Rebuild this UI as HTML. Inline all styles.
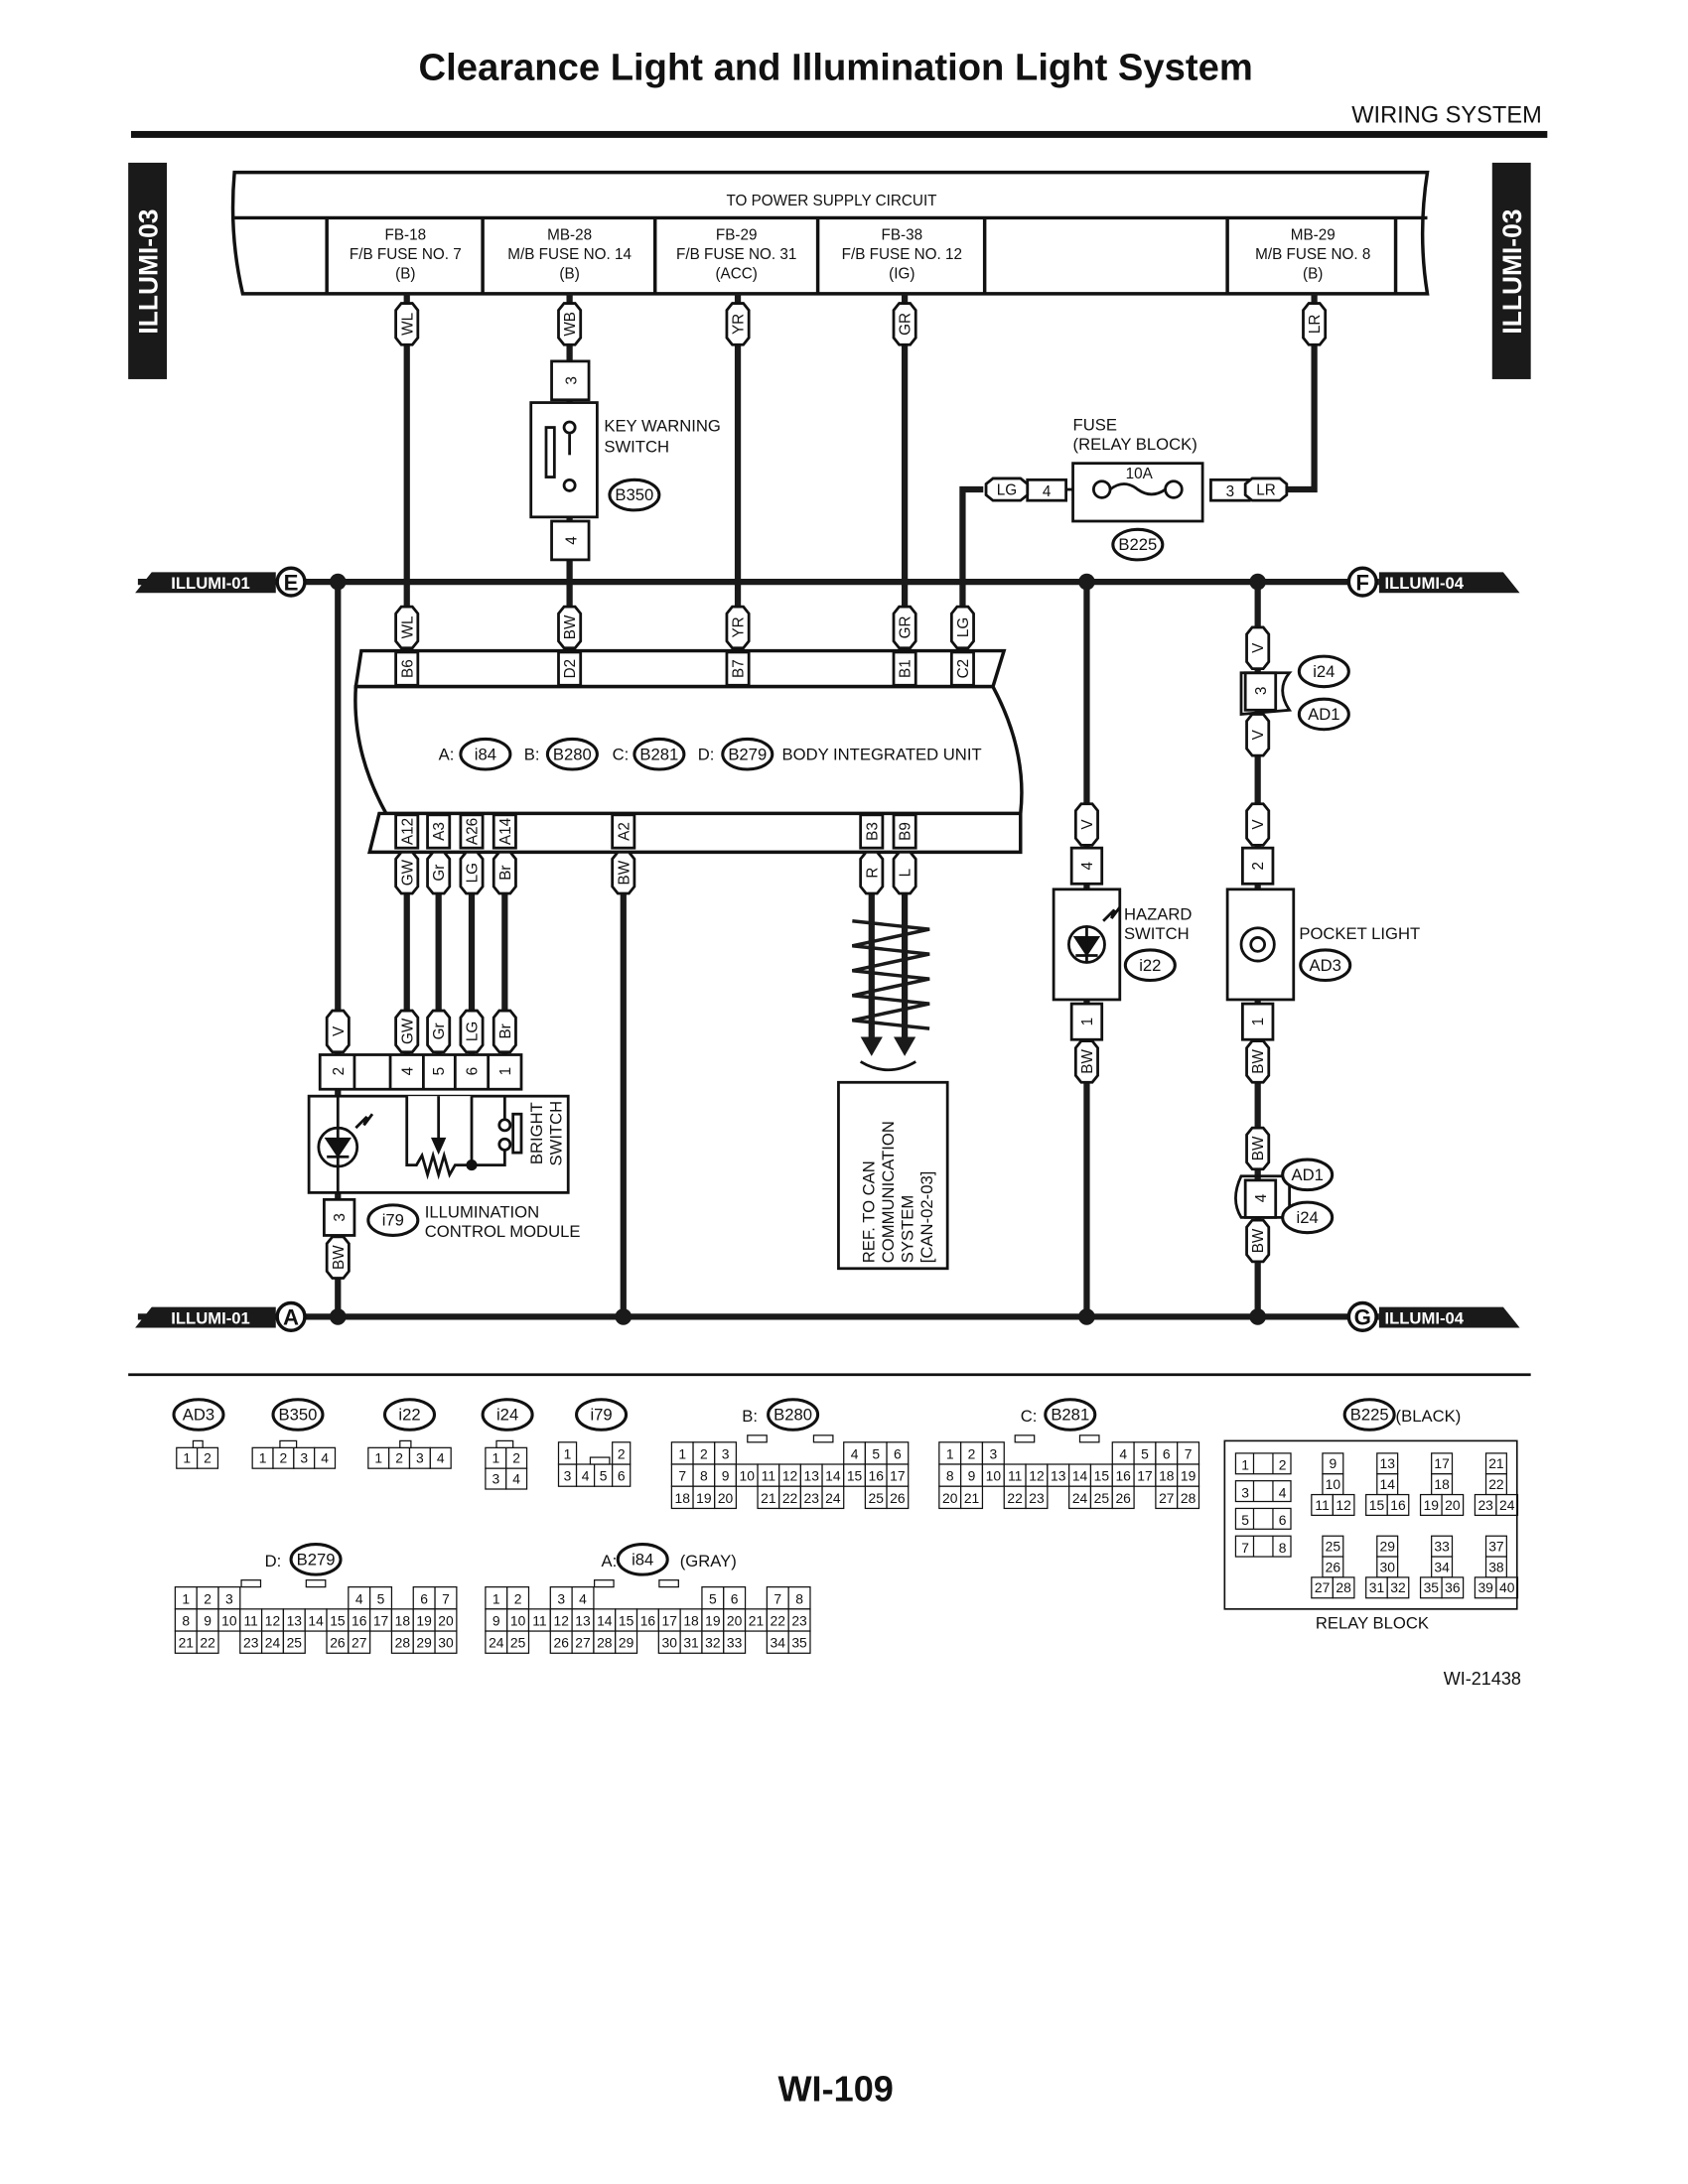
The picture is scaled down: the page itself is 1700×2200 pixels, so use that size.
<!DOCTYPE html>
<html><head><meta charset="utf-8">
<style>
html,body{margin:0;padding:0;background:#fff;overflow:hidden;}
svg{display:block;}
text{font-family:"Liberation Sans",Arial,sans-serif;fill:#111;}
</style></head>
<body>
<svg id="s" width="1700" height="2200" viewBox="0 0 1224 1584" xmlns="http://www.w3.org/2000/svg">
<rect width="1224" height="1584" fill="#fff"/>
<text x="606" y="58" font-size="27.5" font-weight="bold" text-anchor="middle">Clearance Light and Illumination Light System</text>
<text x="1118" y="89" font-size="17" text-anchor="end">WIRING SYSTEM</text>
<rect x="95" y="95" width="1027" height="5" fill="#111"/>

<rect x="93" y="118" width="28" height="157" fill="#1a1a1a"/>
<text transform="translate(114,197) rotate(-90)" font-size="19" font-weight="bold" text-anchor="middle" style="fill:#fff">ILLUMI-03</text>
<rect x="1082" y="118" width="28" height="157" fill="#1a1a1a"/>
<text transform="translate(1103,197) rotate(-90)" font-size="19" font-weight="bold" text-anchor="middle" style="fill:#fff">ILLUMI-03</text>

<g fill="none" stroke="#111" stroke-width="2.5">
<path d="M170,125 L1035,125 Q1028,170 1035,213 L176,213 Q166,170 170,125 Z" fill="#fff"/>
<line x1="170" y1="158" x2="1035" y2="158"/>
<line x1="237" y1="158" x2="237" y2="213"/>
<line x1="350" y1="158" x2="350" y2="213"/>
<line x1="475" y1="158" x2="475" y2="213"/>
<line x1="593" y1="158" x2="593" y2="213"/>
<line x1="714" y1="158" x2="714" y2="213"/>
<line x1="890" y1="158" x2="890" y2="213"/>
<line x1="1012" y1="158" x2="1012" y2="213"/>
</g>
<g font-size="11" text-anchor="middle">
<text x="603" y="149">TO POWER SUPPLY CIRCUIT</text>
<text x="294" y="174">FB-18</text><text x="294" y="188">F/B FUSE NO. 7</text><text x="294" y="202">(B)</text>
<text x="413" y="174">MB-28</text><text x="413" y="188">M/B FUSE NO. 14</text><text x="413" y="202">(B)</text>
<text x="534" y="174">FB-29</text><text x="534" y="188">F/B FUSE NO. 31</text><text x="534" y="202">(ACC)</text>
<text x="654" y="174">FB-38</text><text x="654" y="188">F/B FUSE NO. 12</text><text x="654" y="202">(IG)</text>
<text x="952" y="174">MB-29</text><text x="952" y="188">M/B FUSE NO. 8</text><text x="952" y="202">(B)</text>
</g>

<g stroke="#1a1a1a" stroke-width="4.5" fill="none">
<line x1="295" y1="213" x2="295" y2="475"/>
<line x1="413" y1="213" x2="413" y2="475"/>
<line x1="535" y1="213" x2="535" y2="475"/>
<line x1="656" y1="213" x2="656" y2="475"/>
<polyline points="953,213 953,355 930,355"/>
<polyline points="713,355 698,355 698,475"/>
<line x1="100" y1="422" x2="1000" y2="422"/>
<line x1="100" y1="955" x2="1000" y2="955"/>
<line x1="245" y1="422" x2="245" y2="955"/>
<line x1="295" y1="618" x2="295" y2="765"/>
<line x1="318" y1="618" x2="318" y2="765"/>
<line x1="342" y1="618" x2="342" y2="765"/>
<line x1="366" y1="618" x2="366" y2="765"/>
<line x1="452" y1="618" x2="452" y2="955"/>
<line x1="632" y1="618" x2="632" y2="755"/>
<line x1="656" y1="618" x2="656" y2="755"/>
<line x1="788" y1="422" x2="788" y2="955"/>
<line x1="912" y1="422" x2="912" y2="955"/>
</g>
<g fill="#1a1a1a">
<circle cx="245" cy="422" r="6"/><circle cx="788" cy="422" r="6"/><circle cx="912" cy="422" r="6"/>
<circle cx="245" cy="955" r="6"/><circle cx="452" cy="955" r="6"/><circle cx="788" cy="955" r="6"/><circle cx="912" cy="955" r="6"/>
<path d="M110,415 L200,415 L200,430 L98,430 Z"/>
<path d="M1000,415 L1090,415 L1102,430 L1000,430 Z"/>
<path d="M110,948 L200,948 L200,963 L98,963 Z"/>
<path d="M1000,948 L1090,948 L1102,963 L1000,963 Z"/>
</g>
<g font-size="12" font-weight="bold">
<text x="124" y="427" style="fill:#fff">ILLUMI-01</text>
<text x="1004" y="427" style="fill:#fff">ILLUMI-04</text>
<text x="124" y="960" style="fill:#fff">ILLUMI-01</text>
<text x="1004" y="960" style="fill:#fff">ILLUMI-04</text>
</g>
<g fill="#fff" stroke="#111" stroke-width="2.5">
<circle cx="211" cy="422" r="10"/><circle cx="988" cy="422" r="10"/>
<circle cx="211" cy="955" r="10"/><circle cx="988" cy="955" r="10"/>
</g>
<g font-size="16" font-weight="bold" text-anchor="middle">
<text x="211" y="428">E</text><text x="988" y="428">F</text><text x="211" y="961">A</text><text x="988" y="961">G</text>
</g>

<g fill="#fff" stroke="#111" stroke-width="2">
<rect x="400" y="262" width="27" height="28"/>
<rect x="385" y="292" width="48" height="83"/>
<rect x="400" y="378" width="27" height="28"/>
<rect x="396" y="310" width="6" height="36"/>
<circle cx="413" cy="310" r="4"/><circle cx="413" cy="352" r="4"/>
</g>
<line x1="413" y1="315" x2="413" y2="330" stroke="#111" stroke-width="2"/>
<text transform="translate(418,276) rotate(-90)" font-size="11" text-anchor="middle">3</text>
<text transform="translate(418,392) rotate(-90)" font-size="11" text-anchor="middle">4</text>
<text x="438" y="313" font-size="12">KEY WARNING</text>
<text x="438" y="328" font-size="12">SWITCH</text>

<g fill="#fff" stroke="#111" stroke-width="2">
<rect x="778" y="336" width="94" height="42"/>
<rect x="745" y="348" width="28" height="15"/>
<rect x="878" y="348" width="28" height="15"/>
<circle cx="799" cy="355" r="6"/><circle cx="851" cy="355" r="6"/>
<path d="M805,355 Q815,347 825,355 Q835,362 845,355" fill="none"/>
<line x1="773" y1="355" x2="778" y2="355"/>
</g>
<text x="759" y="360" font-size="11" text-anchor="middle">4</text>
<text x="892" y="360" font-size="11" text-anchor="middle">3</text>
<text x="826" y="347" font-size="11" text-anchor="middle">10A</text>
<text x="778" y="312" font-size="12">FUSE</text>
<text x="778" y="326" font-size="12">(RELAY BLOCK)</text>

<g fill="#fff" stroke="#111" stroke-width="2.5">
<path d="M262,472 L728,472 L720,498 L258,498 Z"/>
<path d="M258,498 L720,498 Q745,545 740,590 L280,590 Q255,545 258,498 Z"/>
<path d="M275,590 L740,590 L740,618 L268,618 Z"/>
</g>
<g font-size="12">
<text x="318" y="551">A:</text><text x="380" y="551">B:</text><text x="444" y="551">C:</text><text x="506" y="551">D:</text>
<text x="567" y="551">BODY INTEGRATED UNIT</text>
</g>

<g fill="#fff" stroke="#111" stroke-width="2">
<rect x="232" y="765" width="146" height="25"/>
<rect x="224" y="795" width="188" height="70"/>
<rect x="235" y="870" width="22" height="26"/>
<circle cx="245" cy="832" r="14"/>
<line x1="245" y1="795" x2="245" y2="865"/>
<path d="M237,826 L253,826 L245,838 Z" fill="#111"/>
<line x1="237" y1="839" x2="253" y2="839"/>
<path d="M258,818 L266,810 L264,816 L270,808"/>
<polyline points="295,795 295,845 302,845 306,838 310,852 314,838 318,852 322,838 326,852 330,845 342,845 342,795"/>
<line x1="318" y1="795" x2="318" y2="832"/>
<path d="M314,826 L322,826 L318,835 Z" fill="#111"/>
<polyline points="342,845 366,845 366,832"/>
<polyline points="366,795 366,812"/>
<circle cx="366" cy="816" r="4"/><circle cx="366" cy="830" r="4"/>
<rect x="372" y="808" width="6" height="28"/>
</g>
<circle cx="342" cy="845" r="4" fill="#111"/>
<g stroke="#111" stroke-width="2"><line x1="257" y1="765" x2="257" y2="790"/><line x1="283" y1="765" x2="283" y2="790"/><line x1="307" y1="765" x2="307" y2="790"/><line x1="330" y1="765" x2="330" y2="790"/><line x1="354" y1="765" x2="354" y2="790"/></g>
<g font-size="11" text-anchor="middle">
<text transform="translate(249,777) rotate(-90)">2</text>
<text transform="translate(299,777) rotate(-90)">4</text>
<text transform="translate(322,777) rotate(-90)">5</text>
<text transform="translate(346,777) rotate(-90)">6</text>
<text transform="translate(370,777) rotate(-90)">1</text>
<text transform="translate(250,883) rotate(-90)">3</text>
<text transform="translate(393,822) rotate(-90)" font-size="12">BRIGHT</text>
<text transform="translate(407,822) rotate(-90)" font-size="12">SWITCH</text>
</g>
<text x="308" y="883" font-size="12">ILLUMINATION</text>
<text x="308" y="897" font-size="12">CONTROL MODULE</text>

<g stroke="#1a1a1a" stroke-width="2.5" fill="none">
<polyline points="618,668 674,674 618,686 674,692 618,704 674,710 618,722 674,728 618,740 674,746"/>
</g>
<path d="M624,752 L640,752 L632,766 Z M648,752 L664,752 L656,766 Z" fill="#1a1a1a"/>
<path d="M624,770 Q644,782 664,770" fill="none" stroke="#111" stroke-width="2"/>
<rect x="608" y="785" width="79" height="135" fill="#fff" stroke="#111" stroke-width="2"/>
<g font-size="12">
<text transform="translate(634,916) rotate(-90)">REF. TO CAN</text>
<text transform="translate(648,916) rotate(-90)">COMMUNICATION</text>
<text transform="translate(662,916) rotate(-90)">SYSTEM</text>
<text transform="translate(676,916) rotate(-90)">[CAN-02-03]</text>
</g>

<g fill="#fff" stroke="#111" stroke-width="2">
<rect x="777" y="615" width="22" height="26"/>
<rect x="764" y="645" width="48" height="80"/>
<rect x="777" y="728" width="22" height="26"/>
<circle cx="788" cy="685" r="13"/>
<path d="M780,680 L796,680 L788,692 Z" fill="#111"/>
<line x1="780" y1="693" x2="796" y2="693"/>
<line x1="788" y1="672" x2="788" y2="698"/>
<path d="M800,668 L808,660 L806,666 L812,658"/>
<rect x="903" y="488" width="22" height="27"/>
<path d="M900,488 L935,488 Q925,500 935,515 L900,518 Z" fill="none"/>
<rect x="901" y="615" width="22" height="26"/>
<rect x="890" y="645" width="48" height="80"/>
<rect x="901" y="728" width="22" height="26"/>
<circle cx="912" cy="685" r="12"/>
<circle cx="912" cy="685" r="5"/>
<rect x="903" y="856" width="22" height="27"/>
<path d="M900,853 L935,853 L935,883 L900,883 Q892,870 900,853 Z" fill="none"/>
</g>
<g font-size="11" text-anchor="middle">
<text transform="translate(792,628) rotate(-90)">4</text>
<text transform="translate(792,741) rotate(-90)">1</text>
<text transform="translate(918,501) rotate(-90)">3</text>
<text transform="translate(916,628) rotate(-90)">2</text>
<text transform="translate(916,741) rotate(-90)">1</text>
<text transform="translate(918,869) rotate(-90)">4</text>
</g>
<g font-size="12">
<text x="815" y="667">HAZARD</text><text x="815" y="681">SWITCH</text>
<text x="942" y="681">POCKET LIGHT</text>
</g>

<g id="labels"></g>
<g id="grids"></g>

<line x1="93" y1="997" x2="1110" y2="997" stroke="#111" stroke-width="2"/>
<text x="1103" y="1222" font-size="13" text-anchor="end">WI-21438</text>
<text x="606" y="1524" font-size="26" font-weight="bold" text-anchor="middle">WI-109</text>
<rect x="888" y="1045" width="212" height="122" fill="none" stroke="#111" stroke-width="1.2"/>
<text x="995" y="1181" font-size="12" text-anchor="middle">RELAY BLOCK</text>
<g font-size="12">
<text x="538" y="1031">B:</text><text x="740" y="1031">C:</text><text x="1012" y="1031">(BLACK)</text>
<text x="192" y="1136">D:</text><text x="436" y="1136">A:</text><text x="493" y="1136">(GRAY)</text>
</g>
</svg>
<script>
var NS="http://www.w3.org/2000/svg";
function el(p,t,a,txt){var e=document.createElementNS(NS,t);for(var k in a)e.setAttribute(k,a[k]);if(txt!==undefined)e.textContent=txt;p.appendChild(e);return e;}
var L=document.getElementById('labels');
function wl(x,y,t){var g=el(L,'g',{transform:'translate('+x+','+y+')'});
el(g,'path',{d:'M-8,-10 L-4,-15 L4,-15 L8,-10 L8,10 L4,15 L-4,15 L-8,10 Z',fill:'#fff',stroke:'#111','stroke-width':2});
el(g,'text',{transform:'rotate(-90)','font-size':11,'text-anchor':'middle',y:4},t);}
function wlh(x,y,t){var g=el(L,'g',{transform:'translate('+x+','+y+')'});
el(g,'path',{d:'M-10,-8 L-15,-4 L-15,4 L-10,8 L10,8 L15,4 L15,-4 L10,-8 Z',fill:'#fff',stroke:'#111','stroke-width':2});
el(g,'text',{'font-size':11,'text-anchor':'middle',y:4},t);}
function pin(x,y,t){var g=el(L,'g',{transform:'translate('+x+','+y+')'});
el(g,'rect',{x:-8,y:-12,width:16,height:24,fill:'#fff',stroke:'#111','stroke-width':2});
el(g,'text',{transform:'rotate(-90)','font-size':11,'text-anchor':'middle',y:4},t);}
function ov(x,y,t,rx){var g=el(L,'g',{});
el(g,'ellipse',{cx:x,cy:y,rx:rx||18,ry:11,fill:'#fff',stroke:'#111','stroke-width':2.2});
el(g,'text',{x:x,y:y+4,'font-size':12,'text-anchor':'middle'},t);}
wl(295,235,'WL');wl(413,235,'WB');wl(535,235,'YR');wl(656,235,'GR');wl(953,235,'LR');
wl(295,455,'WL');wl(413,455,'BW');wl(535,455,'YR');wl(656,455,'GR');wl(698,455,'LG');
pin(295,485,'B6');pin(413,485,'D2');pin(535,485,'B7');pin(656,485,'B1');pin(698,485,'C2');
pin(295,603,'A12');pin(318,603,'A3');pin(342,603,'A26');pin(366,603,'A14');pin(452,603,'A2');pin(632,603,'B3');pin(656,603,'B9');
wl(295,633,'GW');wl(318,633,'Gr');wl(342,633,'LG');wl(366,633,'Br');wl(452,633,'BW');wl(632,633,'R');wl(656,633,'L');
wl(245,748,'V');wl(295,748,'GW');wl(318,748,'Gr');wl(342,748,'LG');wl(366,748,'Br');
wl(245,912,'BW');
wlh(730,355,'LG');wlh(918,355,'LR');
wl(788,598,'V');wl(788,770,'BW');
wl(912,470,'V');wl(912,533,'V');wl(912,598,'V');wl(912,770,'BW');wl(912,833,'BW');wl(912,900,'BW');
ov(460,359,'B350');ov(825,395,'B225');ov(352,547,'i84');ov(415,547,'B280');ov(478,547,'B281');ov(542,547,'B279');
ov(285,885,'i79');ov(834,700,'i22');ov(961,700,'AD3');ov(960,487,'i24');ov(960,518,'AD1');ov(948,852,'AD1');ov(948,883,'i24');
ov(144,1026,'AD3');ov(216,1026,'B350');ov(297,1026,'i22');ov(368,1026,'i24');ov(436,1026,'i79');
ov(575,1026,'B280');ov(776,1026,'B281');ov(993,1026,'B225');ov(229,1131,'B279');ov(466,1131,'i84');
var G=document.getElementById('grids');
function grid(x,y,w,h,rows){rows.forEach(function(r,ri){r.forEach(function(c,ci){if(c==='')return;
el(G,'rect',{x:x+ci*w,y:y+ri*h,width:w,height:h,fill:'#fff',stroke:'#111','stroke-width':0.9});
if(c!=='.')el(G,'text',{x:x+ci*w+w/2,y:y+ri*h+h-4,'font-size':10,'text-anchor':'middle'},c);});});}
function tab(x,y,w){el(G,'rect',{x:x,y:y-5,width:w,height:5,fill:'#fff',stroke:'#111','stroke-width':0.9});}
grid(128,1050,15,15,[['1','2']]);tab(140,1050,7);
grid(183,1050,15,15,[['1','2','3','4']]);tab(203,1050,12);
grid(267,1050,15,15,[['1','2','3','4']]);tab(290,1050,8);
grid(352,1050,15,15,[['1','2'],['3','4']]);tab(360,1050,12);
grid(405,1062,13,16,[['3','4','5','6']]);tab(428,1062,14);
grid(405,1046,13,16,[['1','','','2']]);
var e='';
grid(487,1046,15.6,16,[['1','2','3',e,e,e,e,e,'4','5','6'],['7','8','9','10','11','12','13','14','15','16','17'],['18','19','20',e,'21','22','23','24',e,'25','26']]);
tab(542,1046,14);tab(590,1046,14);
grid(681,1046,15.7,16,[['1','2','3',e,e,e,e,e,'4','5','6','7'],['8','9','10','11','12','13','14','15','16','17','18','19'],['20','21',e,'22','23',e,'24','25','26',e,'27','28']]);
tab(736,1046,14);tab(783,1046,14);
grid(127,1151,15.7,16,[['1','2','3',e,e,e,e,e,'4','5',e,'6','7'],['8','9','10','11','12','13','14','15','16','17','18','19','20'],['21','22',e,'23','24','25',e,'26','27',e,'28','29','30']]);
tab(175,1151,14);tab(222,1151,14);
grid(352,1151,15.7,16,[['1','2',e,'3','4',e,e,e,e,e,'5','6',e,'7','8'],['9','10','11','12','13','14','15','16','17','18','19','20','21','22','23'],['24','25',e,'26','27','28','29',e,'30','31','32','33',e,'34','35']]);
tab(431,1151,14);tab(478,1151,14);
[[1,2],[3,4],[5,6],[7,8]].forEach(function(p,i){var yy=1054+i*20;
el(G,'rect',{x:896,y:yy,width:40,height:15,fill:'#fff',stroke:'#111','stroke-width':0.9});
el(G,'line',{x1:909,y1:yy,x2:909,y2:yy+15,stroke:'#111','stroke-width':0.9});
el(G,'line',{x1:923,y1:yy,x2:923,y2:yy+15,stroke:'#111','stroke-width':0.9});
el(G,'text',{x:903,y:yy+12,'font-size':10,'text-anchor':'middle'},p[0]);
el(G,'text',{x:930,y:yy+12,'font-size':10,'text-anchor':'middle'},p[1]);});
for(var row=0;row<2;row++)for(var k=0;k<4;k++){var n=9+row*16+k*4;var gx=951+k*39.5,gy=1054+row*60;
grid(gx+8,gy,15,15,[[String(n)],[String(n+1)]]);grid(gx,gy+30,15.5,15,[[String(n+2),String(n+3)]]);}
</script>
</body></html>
